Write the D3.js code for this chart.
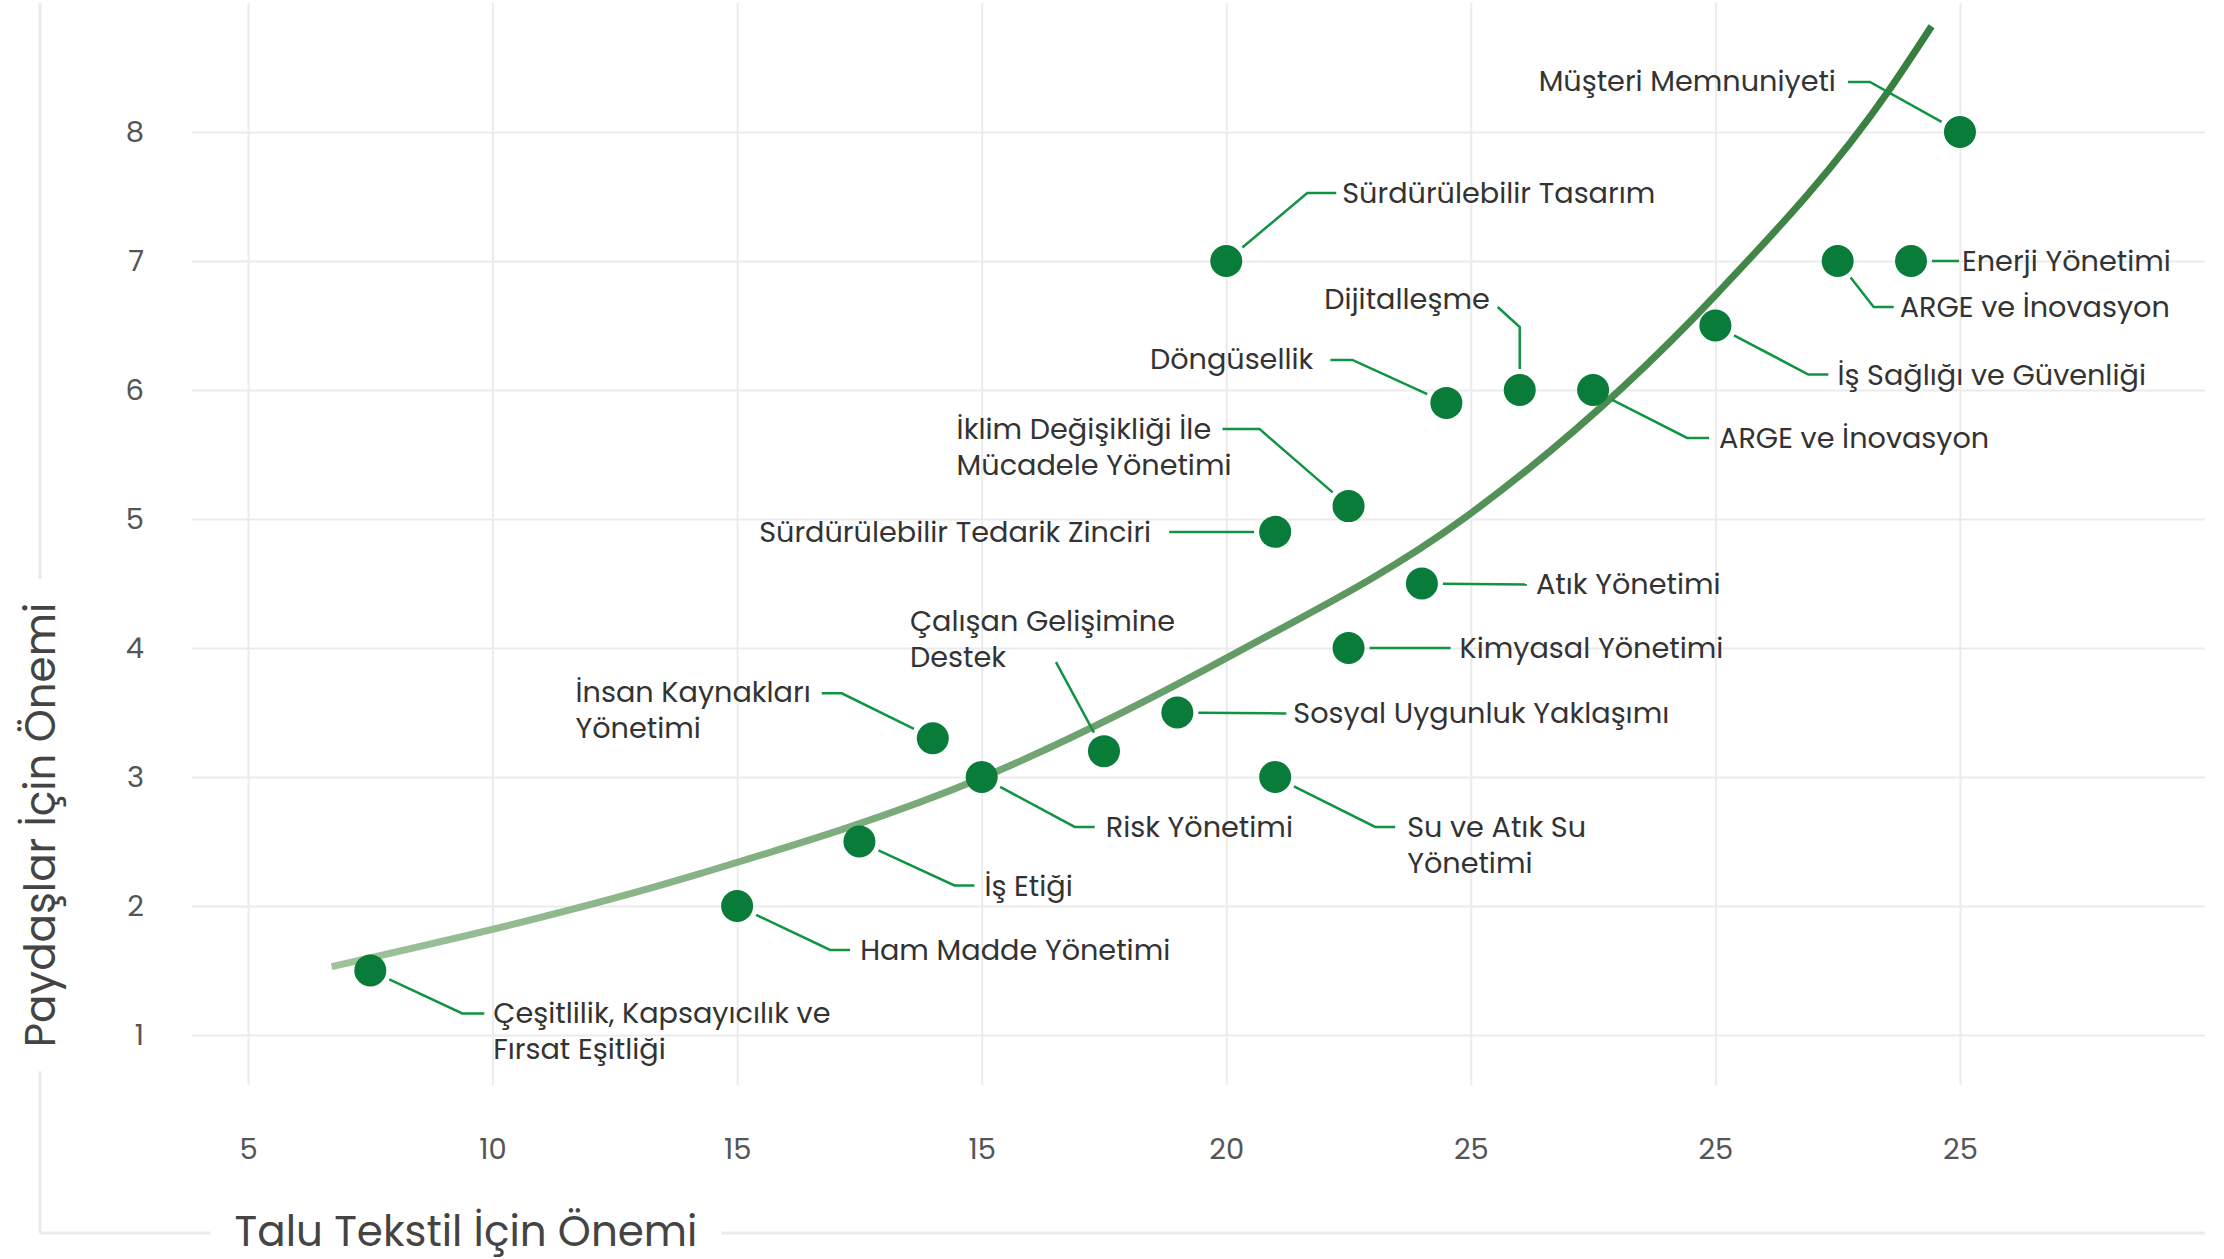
<!DOCTYPE html>
<html>
<head>
<meta charset="utf-8">
<script src="https://cdn.jsdelivr.net/npm/d3@7"></script>
<style>
  body { margin: 0; background: #fff; }
  text { font-family: Poppins, Inter, sans-serif; }
</style>
</head>
<body>
<svg id="chart"></svg>
<script>
// topics and their two importance scores
var topics = [
  "Çeşitlilik, Kapsayıcılık ve\nFırsat Eşitliği",
  "Ham Madde Yönetimi",
  "İş Etiği",
  "İnsan Kaynakları\nYönetimi",
  "Risk Yönetimi",
  "Çalışan Gelişimine\nDestek",
  "Sosyal Uygunluk Yaklaşımı",
  "Sürdürülebilir Tedarik Zinciri",
  "Su ve Atık Su\nYönetimi",
  "Sürdürülebilir Tasarım",
  "İklim Değişikliği İle\nMücadele Yönetimi",
  "Kimyasal Yönetimi",
  "Atık Yönetimi",
  "Döngüsellik",
  "Dijitalleşme",
  "ARGE ve İnovasyon",
  "İş Sağlığı ve Güvenliği",
  "ARGE ve İnovasyon",
  "Enerji Yönetimi",
  "Müşteri Memnuniyeti"
];
var companyScore = [7.5, 15, 17.5, 19, 20, 22.5, 24, 26, 26, 25, 27.5, 27.5, 29, 29.5, 31, 32.5, 35, 37.5, 39, 40];
var stakeholderScore = [1.5, 2, 2.5, 3.3, 3, 3.2, 3.5, 4.9, 3, 7, 5.1, 4, 4.5, 5.9, 6, 6, 6.5, 7, 7, 8];

var xTicks = [5, 10, 15, 20, 25, 30, 35, 40];
var xTickLabels = ["5", "10", "15", "15", "20", "25", "25", "25"];
var yTicks = [1, 2, 3, 4, 5, 6, 7, 8];

// trend curve
var trendX = [6.71, 14.24, 20.04, 25.19, 29.88, 35.04, 38.56, 39.42];
var trendY = [1.53, 2.25, 3.0, 3.96, 5.01, 6.75, 8.33, 8.82];

// label placement (pixel offsets from the dot): leader bends, text spot, anchor
var labelLayout = [
  { path: [[92, 43], [114, 43]], tx: 123, ty: 43, anchor: "start" },
  { path: [[93, 44], [113, 44]], tx: 123, ty: 44, anchor: "start" },
  { path: [[95, 44], [115, 44]], tx: 125, ty: 44, anchor: "start" },
  { path: [[-91, -45], [-111, -45]], tx: -122, ty: -46, anchor: "end" },
  { path: [[93, 50], [113, 50]], tx: 124, ty: 50, anchor: "start" },
  { path: [[-48, -89]], tx: -194, ty: -130, anchor: "start" },
  { path: [[109, 1]], tx: 116, ty: 0, anchor: "start" },
  { path: [[-106, 0]], tx: -124, ty: 0, anchor: "end" },
  { path: [[100, 50], [120, 50]], tx: 132, ty: 50, anchor: "start" },
  { path: [[81, -68], [110, -68]], tx: 116, ty: -68, anchor: "start" },
  { path: [[-89, -77], [-126, -77]], tx: -117, ty: -77, anchor: "end" },
  { path: [[102, 0]], tx: 111, ty: 0, anchor: "start" },
  { path: [[105, 1]], tx: 114, ty: 0, anchor: "start" },
  { path: [[-94, -43], [-116, -43]], tx: -133, ty: -44, anchor: "end" },
  { path: [[0, -63], [-22, -83]], tx: -30, ty: -91, anchor: "end" },
  { path: [[94, 48], [116, 48]], tx: 126, ty: 48, anchor: "start" },
  { path: [[93, 49], [113, 49]], tx: 122, ty: 49, anchor: "start" },
  { path: [[36, 46], [56, 46]], tx: 62, ty: 46, anchor: "start" },
  { path: [[48, 0]], tx: 51, ty: 0, anchor: "start" },
  { path: [[-90, -50], [-112, -50]], tx: -124, ty: -51, anchor: "end" }
];

var svgWidth = 2224;
var svgHeight = 1259;
var margin = { top: 3, right: 19, bottom: 174, left: 192 };
var width = svgWidth - margin.left - margin.right;
var height = svgHeight - margin.top - margin.bottom;

var svg = d3.select("#chart")
  .attr("width", svgWidth)
  .attr("height", svgHeight);

var chartGroup = svg.append("g")
  .attr("transform", `translate(${margin.left}, ${margin.top})`);

var xScale = d3.scaleLinear().domain([3.855, 45.01]).range([0, width]);
var yScale = d3.scaleLinear().domain([0.612, 9.0]).range([height, 0]);

// frame lines round the plot
svg.append("line")
  .attr("x1", 40).attr("x2", 40).attr("y1", 3).attr("y2", 1233)
  .attr("stroke", "#ebebeb").attr("stroke-width", 3);
svg.append("line")
  .attr("x1", 40).attr("x2", 2205).attr("y1", 1233).attr("y2", 1233)
  .attr("stroke", "#ebebeb").attr("stroke-width", 3);

// grid through the axes
var xAxis = chartGroup.append("g")
  .attr("transform", `translate(0, ${height})`)
  .call(d3.axisBottom(xScale)
    .tickValues(xTicks)
    .tickFormat((d, i) => xTickLabels[i])
    .tickSize(height)
    .tickPadding(0));
xAxis.select(".domain").remove();
xAxis.selectAll(".tick line")
  .attr("y1", -height).attr("y2", 0)
  .attr("stroke", "#ebebeb").attr("stroke-width", 2);
xAxis.selectAll(".tick text")
  .attr("y", 64).attr("dy", "0.35em")
  .attr("fill", "#555").attr("font-size", 29);

var yAxis = chartGroup.append("g")
  .call(d3.axisLeft(yScale)
    .tickValues(yTicks)
    .tickSize(-width)
    .tickPadding(48));
yAxis.select(".domain").remove();
yAxis.selectAll(".tick line")
  .attr("stroke", "#ebebeb").attr("stroke-width", 2);
yAxis.selectAll(".tick text")
  .attr("fill", "#555").attr("font-size", 29);

// trend curve with a light-to-dark gradient
var grad = svg.append("defs").append("linearGradient")
  .attr("id", "trendGrad")
  .attr("gradientUnits", "userSpaceOnUse")
  .attr("x1", xScale(trendX[0])).attr("x2", xScale(trendX[trendX.length - 1]))
  .attr("y1", 0).attr("y2", 0);
grad.append("stop").attr("offset", "0%").attr("stop-color", "#9fc29b");
grad.append("stop").attr("offset", "100%").attr("stop-color", "#367e3f");

var trendLine = d3.line()
  .x(d => xScale(d[0]))
  .y(d => yScale(d[1]))
  .curve(d3.curveMonotoneX);

chartGroup.append("path")
  .datum(trendX.map((x, i) => [x, trendY[i]]))
  .attr("d", trendLine)
  .attr("fill", "none")
  .attr("stroke", "url(#trendGrad)")
  .attr("stroke-width", 7);

var points = topics.map((t, i) => ({
  name: t, x: companyScore[i], y: stakeholderScore[i], lay: labelLayout[i]
}));

var r = 16;

// leader lines
chartGroup.selectAll(".leader")
  .data(points)
  .enter()
  .append("path")
  .attr("class", "leader")
  .attr("fill", "none")
  .attr("stroke", "#109443")
  .attr("stroke-width", 2.5)
  .attr("d", function (d) {
    var cx = xScale(d.x), cy = yScale(d.y);
    var first = d.lay.path[0];
    var len = Math.sqrt(first[0] * first[0] + first[1] * first[1]);
    var gap = r + 5;
    var pts = [[cx + first[0] / len * gap, cy + first[1] / len * gap]];
    d.lay.path.forEach(p => pts.push([cx + p[0], cy + p[1]]));
    return d3.line()(pts);
  });

// dots
chartGroup.selectAll(".dot")
  .data(points)
  .enter()
  .append("circle")
  .attr("class", "dot")
  .attr("cx", d => xScale(d.x))
  .attr("cy", d => yScale(d.y))
  .attr("r", r)
  .attr("fill", "#087c38");

// labels
var lineHeight = 36;
chartGroup.selectAll(".label")
  .data(points)
  .enter()
  .append("text")
  .attr("class", "label")
  .attr("font-size", 28.7)
  .attr("fill", "#333")
  .each(function (d) {
    var el = d3.select(this);
    var cx = xScale(d.x), cy = yScale(d.y);
    var lines = d.name.split("\n");
    lines.forEach(function (ln, k) {
      el.append("tspan")
        .attr("y", cy + d.lay.ty + k * lineHeight)
        .attr("dy", "0.35em")
        .text(ln);
    });
    var x0 = cx + d.lay.tx;
    if (d.lay.anchor === "end") {
      var maxW = 0;
      el.selectAll("tspan").each(function () {
        maxW = Math.max(maxW, this.getComputedTextLength());
      });
      x0 = x0 - maxW;
    }
    el.selectAll("tspan").attr("x", x0);
  });

// axis titles sitting on the frame lines
function frameTitle(x, y, rotate, label) {
  var g = svg.append("g")
    .attr("transform", `translate(${x}, ${y}) rotate(${rotate})`);
  var t = g.append("text")
    .attr("text-anchor", "middle")
    .attr("dy", "0.35em")
    .attr("font-size", 42)
    .attr("fill", "#444")
    .text(label);
  var w = t.node().getComputedTextLength();
  g.insert("rect", "text")
    .attr("x", -w / 2 - 24).attr("y", -28)
    .attr("width", w + 48).attr("height", 56)
    .attr("fill", "#fff");
}
frameTitle(466, 1231, 0, "Talu Tekstil İçin Önemi");
frameTitle(40, 825, -90, "Paydaşlar İçin Önemi");
</script>
</body>
</html>
